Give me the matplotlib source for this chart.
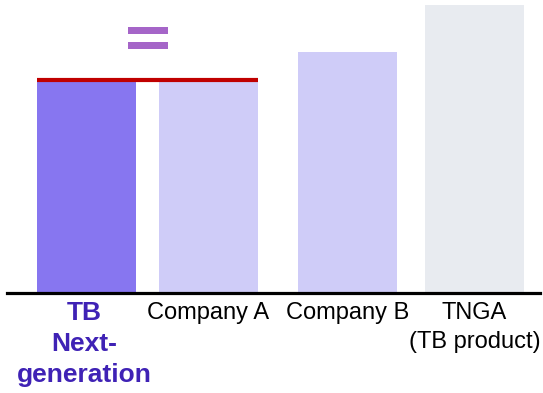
import numpy as np
import matplotlib
matplotlib.use("Agg")
import matplotlib.pyplot as plt
import matplotlib.transforms as mtransforms
from matplotlib.patches import Rectangle

# chart data (relative level, TB next-gen = 100)
categories = ["TB\nNext-\ngeneration", "Company A", "Company B", "TNGA\n(TB product)"]
values = [100, 100, 113, 135]

# layout (pixels across a 543 px wide figure)
xpos = [86.5, 208.5, 347.5, 474.5]
bar_w = 99
bar_colors = ["#8776f0", "#cfccf8", "#cfccf8", "#e8ebf0"]

fig = plt.figure(figsize=(5.43, 3.93), dpi=100)
ax = fig.add_axes([0, 100 / 393, 1, 293 / 393])
ax.set_xlim(0, 543)
ax.set_ylim(0, values[0] * 293 / 213)
ax.axis("off")

ax.bar(xpos, values, width=bar_w, color=bar_colors, zorder=1)

# red reference line on top of TB and Company A
ax.plot([xpos[0] - bar_w / 2, xpos[1] + bar_w / 2], [values[0], values[0]],
        color="#c00000", lw=3, solid_capstyle="butt", zorder=3)

# baseline
ax.plot([7, 540], [0, 0], color="black", lw=2.3, clip_on=False, zorder=3)

# "=" sign between the two equal bars
yscale = ax.get_ylim()[1] / 293
eq_x = (xpos[0] + xpos[1]) / 2 - 20
for bottom in (259, 244):
    ax.add_patch(Rectangle((eq_x, bottom * yscale), 40, 7 * yscale,
                           color="#a565c8", lw=0, clip_on=False))

trans = mtransforms.blended_transform_factory(ax.transData, fig.transFigure)
for i, (x, lab) in enumerate(zip(xpos, categories)):
    if i == 0:
        # bold highlighted label sits a touch left of its bar centre
        ax.text(x - 2, 1 - 301 / 393, lab, transform=trans, ha="center", va="top",
                fontsize=19, fontweight="bold", color="#3f22b5",
                family="Liberation Sans", linespacing=1.37)
    else:
        ax.text(x, 1 - 302 / 393, lab, transform=trans, ha="center", va="top",
                fontsize=17, color="black", family="Liberation Sans",
                linespacing=1.41)

fig.savefig("out.png", dpi=100)
